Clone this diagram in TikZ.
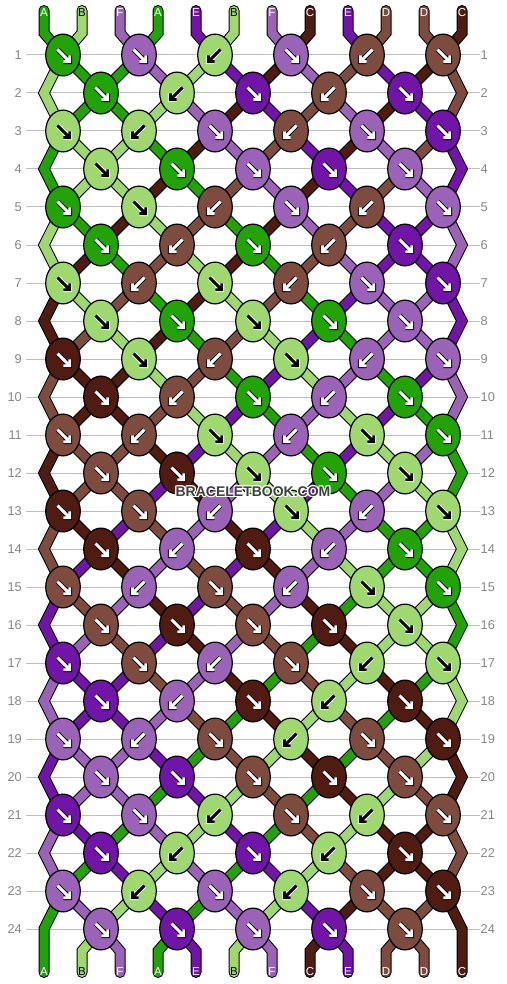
\documentclass[tikz,border=0pt]{standalone}
\usepackage{fontspec}
\setmainfont{Liberation Sans}
\usetikzlibrary{shapes.geometric}
\definecolor{cA}{HTML}{22A304}
\definecolor{cB}{HTML}{9FD86F}
\definecolor{cC}{HTML}{501B10}
\definecolor{cD}{HTML}{7E4B3F}
\definecolor{cE}{HTML}{7015A8}
\definecolor{cF}{HTML}{9A63B8}
\colorlet{afA}{white}\colorlet{aoA}{black}
\colorlet{afB}{black}\colorlet{aoB}{white}
\colorlet{afC}{white}\colorlet{aoC}{black}
\colorlet{afD}{white}\colorlet{aoD}{black}
\colorlet{afE}{white}\colorlet{aoE}{black}
\colorlet{afF}{white}\colorlet{aoF}{black}
\colorlet{ltA}{white}\colorlet{ltB}{black}\colorlet{ltC}{white}
\colorlet{ltD}{white}\colorlet{ltE}{white}\colorlet{ltF}{white}
\definecolor{rowgray}{HTML}{BEBEBE}
\definecolor{numgray}{HTML}{888888}
\definecolor{wmgray}{HTML}{3F3F3F}
\tikzset{
  knot/.style={ellipse, draw=black, line width=1.2pt, minimum width=34.6pt, minimum height=41.8pt, inner sep=0pt},
  arrout/.style={line width=4.8pt, line cap=butt, line join=miter},
  arrin/.style={line width=2.9pt, line cap=butt, line join=miter},
  arr r/.style={xscale=1},
  arr l/.style={xscale=-1},
  rowline/.style={draw=rowgray, line width=1pt},
  rownum/.style={text=numgray, font=\fontsize{12.8}{13}\selectfont, inner sep=0pt},
  lbl/.style={font=\fontsize{11.5}{12}\selectfont, inner sep=0pt},
  wm/.style={font=\bfseries\fontsize{14}{14}\selectfont, inner sep=0pt}
}
\newcommand{\bbknotrow}[2]{%
  \pgfmathsetmacro\bbyy{55+38*(#1-1)}%
  \pgfmathsetmacro\bbxo{isodd(#1) ? 63 : 101}%
  \foreach [count=\k] \c/\d in {#2} {%
    \pgfmathsetmacro\bbxx{\bbxo+76*(\k-1)}%
    \node[knot, fill=c\c] (k#1-\k) at (\bbxx,\bbyy) {};%
    \begin{scope}[shift={(\bbxx,\bbyy)}, arr \d]
      \draw[arrout, ao\c] (-5.5,-5.5) -- (5.8,5.8) (0.3,6.7) -- (6.7,6.7) -- (6.7,0.3);
      \draw[arrin, af\c] (-5.5,-5.5) -- (5.8,5.8) (0.3,6.7) -- (6.7,6.7) -- (6.7,0.3);
    \end{scope}
  }%
}
\begin{document}
\begin{tikzpicture}[x=1pt,y=-1pt,line join=miter]
\useasboundingbox (0,0) rectangle (506,984);
\fill[white] (0,0) rectangle (506,984);
% row lines and numbers
\foreach \r in {1,...,24}{
  \pgfmathsetmacro\yy{55+38*(\r-1)}
  \draw[rowline] (26,\yy) -- (480,\yy);
  \node[rownum, anchor=east] (ln\r) at (22,\yy) {\r};
  \node[rownum, anchor=west] (rn\r) at (480.5,\yy) {\r};
}
% strings
\foreach \pass in {1,2}{
  \foreach \p/\c in {1/A,2/B,3/F,4/A,5/E,6/B,7/F,8/C,9/E,10/D,11/D,12/C}{
    \pgfmathtruncatemacro\ph{isodd(\p) ? \p-1 : 24-\p}
    \pgfmathsetmacro\xs{44+38*(\p-1)}
    \gdef\pth{}
    \foreach \r in {1,...,24}{
      \pgfmathtruncatemacro\kk{mod(\r+\ph,24)}
      \pgfmathsetmacro\qq{min(max(min(\kk,24-\kk)+0.5,1),12)}
      \pgfmathsetmacro\xx{44+38*(\qq-1)}
      \pgfmathsetmacro\yy{55+38*(\r-1)}
      \xdef\pth{\pth -- (\xx,\yy)}
    }
    \ifnum\pass=1
      \edef\cmd{\noexpand\draw[line width=11pt, black, line cap=round, line join=miter] (\xs,10.5) -- (\xs,33) \pth -- (\xs,951) -- (\xs,972.5);}
    \else
      \edef\cmd{\noexpand\draw[line width=9pt, c\c, line cap=round, line join=miter] (\xs,10.5) -- (\xs,33) \pth -- (\xs,951) -- (\xs,972.5);}
    \fi
    \cmd
  }
}
% knots
\bbknotrow{1}{A/r,F/r,B/l,F/r,D/l,D/r}
\bbknotrow{2}{A/r,B/l,E/r,D/l,E/r}
\bbknotrow{3}{B/r,B/l,F/r,D/l,F/r,E/r}
\bbknotrow{4}{B/r,A/r,F/r,E/r,F/r}
\bbknotrow{5}{A/r,B/r,D/l,F/r,D/l,F/r}
\bbknotrow{6}{A/r,D/l,A/r,D/l,E/r}
\bbknotrow{7}{B/r,D/l,B/r,D/l,F/r,E/r}
\bbknotrow{8}{B/r,A/r,B/r,A/r,F/r}
\bbknotrow{9}{C/r,B/r,D/l,B/r,F/l,F/r}
\bbknotrow{10}{C/r,D/l,A/r,F/l,A/r}
\bbknotrow{11}{D/r,D/l,B/r,F/l,B/r,A/r}
\bbknotrow{12}{D/r,C/r,B/r,A/r,B/r}
\bbknotrow{13}{C/r,D/r,F/l,B/r,F/l,B/r}
\bbknotrow{14}{C/r,F/l,C/r,F/l,A/r}
\bbknotrow{15}{D/r,F/l,D/r,F/l,B/r,A/r}
\bbknotrow{16}{D/r,C/r,D/r,C/r,B/r}
\bbknotrow{17}{E/r,D/r,F/l,D/r,B/l,B/r}
\bbknotrow{18}{E/r,F/l,C/r,B/l,C/r}
\bbknotrow{19}{F/r,F/l,D/r,B/l,D/r,C/r}
\bbknotrow{20}{F/r,E/r,D/r,C/r,D/r}
\bbknotrow{21}{E/r,F/r,B/l,D/r,B/l,D/r}
\bbknotrow{22}{E/r,B/l,E/r,B/l,C/r}
\bbknotrow{23}{F/r,B/l,F/r,B/l,D/r,C/r}
\bbknotrow{24}{F/r,E/r,F/r,E/r,D/r}
% letters
\foreach \p/\c in {1/A,2/B,3/F,4/A,5/E,6/B,7/F,8/C,9/E,10/D,11/D,12/C}{
  \pgfmathsetmacro\xs{44+38*(\p-1)}
  \node[lbl, text=lt\c] (top\p) at (\xs,12.5) {\c};
  \node[lbl, text=lt\c] (bot\p) at (\xs,971.5) {\c};
}
% watermark
\foreach [count=\i] \dx/\dy in {-1.2/0,1.2/0,0/-1.2,0/1.2,-0.9/-0.9,0.9/-0.9,-0.9/0.9,0.9/0.9}{
  \node[wm, text=white] (wmh\i) at (253+\dx,491.5+\dy) {BRACELETBOOK.COM};
}
\node[wm, text=wmgray] (wm) at (253,491.5) {BRACELETBOOK.COM};
\end{tikzpicture}
\end{document}
